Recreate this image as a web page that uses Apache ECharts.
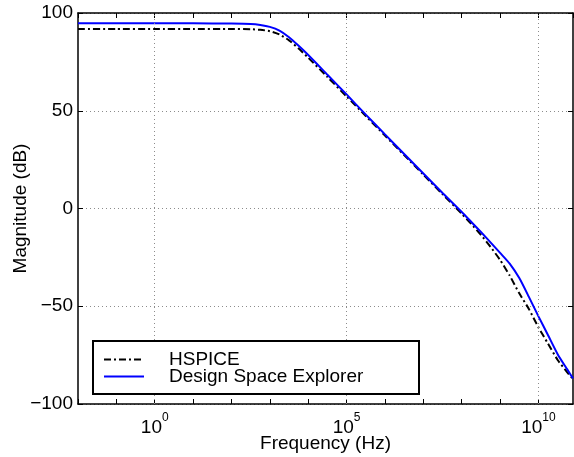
<!DOCTYPE html>
<html>
<head>
<meta charset="utf-8">
<script src="https://cdn.jsdelivr.net/npm/echarts@6/dist/echarts.min.js"></script>
<style>
html,body{margin:0;padding:0;background:#fff;}
#chart{width:574px;height:457px;}
</style>
</head>
<body>
<div id="chart"></div>
<script>
// log10 of frequency (Hz)
const logFreq = [-2, -1, 0, 1, 2, 2.5, 2.75, 3, 3.25, 3.5, 3.75, 4, 4.5, 5, 5.5, 6, 6.5, 7, 7.5, 8, 8.25, 8.5, 8.75, 9, 9.25, 9.5, 9.75, 10, 10.25, 10.5, 10.75, 10.9];
const hspice = [91.8, 91.8, 91.8, 91.8, 91.8, 91.7, 91.4, 90.7, 89.0, 86.0, 81.8, 77.1, 67.3, 57.3, 47.3, 37.3, 27.3, 17.3, 7.3, -2.7, -7.9, -13.5, -19.6, -26.3, -34.3, -43.4, -51.4, -60.8, -69.2, -77.5, -83.8, -87.3];
const dse = [94.7, 94.7, 94.7, 94.7, 94.6, 94.4, 93.9, 92.9, 91.0, 87.6, 83.2, 78.5, 68.4, 58.3, 48.0, 37.9, 27.9, 17.9, 7.9, -1.8, -6.9, -12.0, -17.3, -22.7, -28.2, -35.6, -45.2, -55.2, -64.8, -74.5, -82.3, -86.9];
const seriesNames = ['HSPICE', 'Design Space Explorer'];
const xLabelDecades = [0, 5, 10];
const yTicks = [-100, -50, 0, 50, 100];

const FONT = "'Liberation Sans', Arial, Helvetica, sans-serif";
const chart = echarts.init(document.getElementById('chart'), null, {renderer: 'canvas'});

function pairs(xs, ys) { return xs.map((x, i) => [x, ys[i]]); }

const axisLine = {show: true, onZero: false, lineStyle: {color: '#000', width: 1.5}};
const gridLineStyle = {color: '#8c8c8c', width: 1, type: [1, 3]};

const option = {
  animation: false,
  backgroundColor: '#fff',
  textStyle: {fontFamily: FONT},
  grid: {left: 78, right: 1, top: 13, bottom: 53, containLabel: false, outerBoundsMode: 'none'},
  xAxis: [{
    type: 'value', position: 'bottom', min: -2, max: 10.9, interval: 1,
    axisLine: axisLine,
    axisTick: {show: true, inside: true, length: 5, lineStyle: {color: '#000', width: 1}},
    splitLine: {show: false},
    axisLabel: {
      margin: 8, showMinLabel: true, showMaxLabel: false,
      formatter: v => xLabelDecades.indexOf(v) >= 0 ? '{b|10}{e|' + v + '}' : '',
      rich: {
        b: {fontSize: 19, fontFamily: FONT, color: '#000', lineHeight: 25, verticalAlign: 'bottom'},
        e: {fontSize: 12, fontFamily: FONT, color: '#000', lineHeight: 12, verticalAlign: 'top'}
      }
    },
    name: 'Frequency (Hz)', nameLocation: 'middle', nameGap: 30, nameMoveOverlap: false,
    nameTextStyle: {fontSize: 19, color: '#000', fontFamily: FONT}
  }, {
    type: 'value', position: 'top', min: -2, max: 10.9, interval: 1,
    axisLine: axisLine,
    axisTick: {show: true, inside: true, length: 5, lineStyle: {color: '#000', width: 1}},
    axisLabel: {show: false}, splitLine: {show: false}
  }],
  yAxis: [{
    type: 'value', position: 'left', min: -100, max: 100, interval: 50,
    axisLine: axisLine,
    axisTick: {show: true, inside: true, length: 5, lineStyle: {color: '#000', width: 1}},
    splitLine: {show: true, lineStyle: gridLineStyle},
    axisLabel: {
      margin: 5, fontSize: 19, color: '#000', fontFamily: FONT,
      formatter: v => yTicks.indexOf(v) >= 0 ? (v < 0 ? '\u2212' + Math.abs(v) : String(v)) : ''
    },
    name: 'Magnitude (dB)', nameLocation: 'middle', nameGap: 48, nameRotate: 90, nameMoveOverlap: false,
    nameTextStyle: {fontSize: 19, color: '#000', fontFamily: FONT}
  }, {
    type: 'value', position: 'right', min: -100, max: 100, interval: 50,
    axisLine: axisLine,
    axisTick: {show: true, inside: true, length: 5, lineStyle: {color: '#000', width: 1}},
    axisLabel: {show: false}, splitLine: {show: false}
  }],
  legend: {
    show: true, orient: 'vertical', left: 103, top: 350, padding: 0,
    itemWidth: 40, itemHeight: 10, itemGap: -2, z: 60,
    data: seriesNames,
    itemStyle: {color: 'transparent', borderColor: 'transparent', borderWidth: 0, opacity: 0},
    formatter: name => '{t|' + name + '}',
    textStyle: {
      color: '#000', fontSize: 19, fontFamily: FONT, lineHeight: 18,
      rich: {t: {fontSize: 19, fontFamily: FONT, color: '#000', lineHeight: 18, padding: [0, 0, 0, 20]}}
    }
  },
  graphic: [{
    type: 'rect', z: 50,
    shape: {x: 93, y: 341, width: 326, height: 53},
    style: {fill: '#fff', stroke: '#000', lineWidth: 2}
  }],
  series: [{
    name: '_grid', type: 'line', data: [], z: 1, silent: true,
    markLine: {
      silent: true, symbol: ['none', 'none'], label: {show: false},
      lineStyle: gridLineStyle, animation: false,
      data: xLabelDecades.map(d => ({xAxis: d}))
    }
  }, {
    name: seriesNames[0], type: 'line', data: pairs(logFreq, hspice),
    symbol: 'none', z: 3, smooth: 0.2,
    lineStyle: {color: '#000', width: 2, type: [7, 3, 2, 3]},
    itemStyle: {color: '#000'}
  }, {
    name: seriesNames[1], type: 'line', data: pairs(logFreq, dse),
    symbol: 'none', z: 4, smooth: 0.2,
    lineStyle: {color: '#0000ff', width: 2, type: 'solid'},
    itemStyle: {color: '#0000ff'}
  }]
};
chart.setOption(option);
</script>
</body>
</html>
